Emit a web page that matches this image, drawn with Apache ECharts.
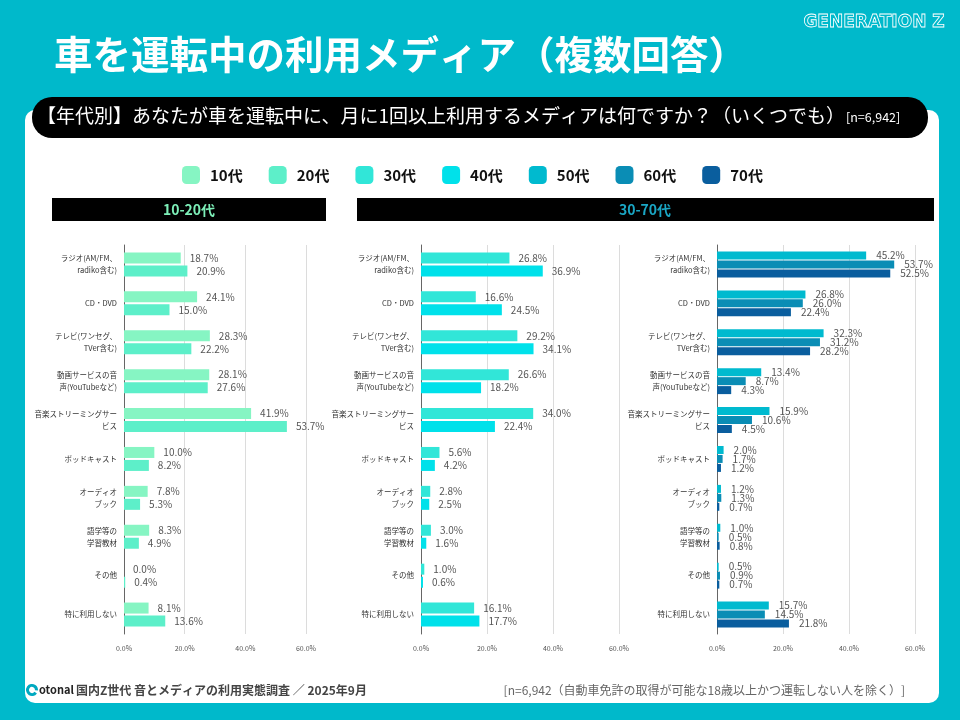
<!DOCTYPE html>
<html>
<head>
<meta charset="utf-8">
<script src="https://cdn.jsdelivr.net/npm/echarts@6/dist/echarts.min.js"></script>
<style>
html,body{margin:0;padding:0;background:#00B9CB;}
#c{width:960px;height:720px;}
</style>
</head>
<body>
<div id="c"></div>
<script>
var categories = ['ラジオ(AM/FM、\nradiko含む)', 'CD・DVD', 'テレビ(ワンセグ、\nTVer含む)', '動画サービスの音\n声(YouTubeなど)', '音楽ストリーミングサー\nビス', 'ポッドキャスト', 'オーディオ\nブック', '語学等の\n学習教材', 'その他', '特に利用しない'];
var ageGroups = ['10代', '20代', '30代', '40代', '50代', '60代', '70代'];
var v10 = [18.7, 24.1, 28.3, 28.1, 41.9, 10.0, 7.8, 8.3, 0.0, 8.1];
var v20 = [20.9, 15.0, 22.2, 27.6, 53.7, 8.2, 5.3, 4.9, 0.4, 13.6];
var v30 = [26.8, 16.6, 29.2, 26.6, 34.0, 5.6, 2.8, 3.0, 1.0, 16.1];
var v40 = [36.9, 24.5, 34.1, 18.2, 22.4, 4.2, 2.5, 1.6, 0.6, 17.7];
var v50 = [45.2, 26.8, 32.3, 13.4, 15.9, 2.0, 1.2, 1.0, 0.5, 15.7];
var v60 = [53.7, 26.0, 31.2, 8.7, 10.6, 1.7, 1.3, 0.5, 0.9, 14.5];
var v70 = [52.5, 22.4, 28.2, 4.3, 4.5, 1.2, 0.7, 0.8, 0.7, 21.8];
var xTicks = [0, 20, 40, 60];

var colors = ['#86F5C3', '#5DEFC9', '#31E6D8', '#00E1EA', '#00BACF', '#0A8DB5', '#0A5E9E'];
var FONT = '"Noto Sans CJK JP", "Noto Sans", sans-serif';

var chart = echarts.init(document.getElementById('c'));

var grids = [
  {left: 124, width: 182, top: 245, height: 389},
  {left: 421, width: 198, top: 245, height: 389},
  {left: 717, width: 198, top: 245, height: 389}
];
var xAxes = grids.map(function (g, i) {
  return {
    type: 'value', gridIndex: i, min: xTicks[0], max: xTicks[xTicks.length - 1], interval: 20,
    axisLine: {show: false}, axisTick: {show: false},
    axisLabel: {fontSize: 7, color: '#555', margin: 11, fontFamily: FONT,
      formatter: function (v) { return v.toFixed(1) + '%'; }},
    splitLine: {show: true, lineStyle: {color: '#dcdcdc', width: 1}}
  };
});
var yAxes = grids.map(function (g, i) {
  return {
    type: 'category', gridIndex: i, data: categories, inverse: true,
    axisLine: {show: true, lineStyle: {color: '#666', width: 1}},
    axisTick: {show: false},
    axisLabel: {fontSize: 7.5, color: '#333', margin: 7, lineHeight: 12, align: 'right', fontFamily: FONT}
  };
});

function mk(name, data, idx, gi, bw, gap, dist) {
  return {
    name: name, type: 'bar', xAxisIndex: gi, yAxisIndex: gi, data: data,
    barWidth: bw, barGap: gap,
    itemStyle: {color: colors[idx]},
    label: {show: true, position: 'right', distance: dist, fontSize: 10, color: '#555', fontFamily: FONT,
      formatter: function (p) { return p.value.toFixed(1) + '%'; }},
    z: 3
  };
}

var series = [
  mk(ageGroups[0], v10, 0, 0, 11, '18%', 9),
  mk(ageGroups[1], v20, 1, 0, 11, '18%', 9),
  mk(ageGroups[2], v30, 2, 1, 11, '18%', 9),
  mk(ageGroups[3], v40, 3, 1, 11, '18%', 9),
  mk(ageGroups[4], v50, 4, 2, 8, '12%', 10),
  mk(ageGroups[5], v60, 5, 2, 8, '12%', 10),
  mk(ageGroups[6], v70, 6, 2, 8, '12%', 10)
];

var option = {
  backgroundColor: '#00B9CB',
  animation: false,
  textStyle: {fontFamily: FONT},
  legend: {
    data: ageGroups, left: 177, top: 161, itemWidth: 18, itemHeight: 18, itemGap: 26,
    icon: 'roundRect',
    textStyle: {fontSize: 15, fontWeight: 'bold', color: '#111', fontFamily: FONT, padding: [0, 0, 0, 5]}
  },
  grid: grids,
  xAxis: xAxes,
  yAxis: yAxes,
  series: series,
  graphic: [
    {type: 'rect', z: -10, silent: true, shape: {x: 25, y: 110, width: 914, height: 593, r: 10}, style: {fill: '#fff'}},
    {type: 'rect', z: -5, silent: true, shape: {x: 32, y: 97, width: 896, height: 41, r: 20}, style: {fill: '#000'}},
    {type: 'text', z: 10, left: 54, top: 35, style: {text: '車を運転中の利用メディア（複数回答）', fill: '#fff', font: 'bold 38.5px ' + FONT}},
    {type: 'text', z: 10, left: 37, top: 106, style: {text: '【年代別】あなたが車を運転中に、月に1回以上利用するメディアは何ですか？（いくつでも）', fill: '#fff', font: '19px ' + FONT}},
    {type: 'text', z: 10, left: 846, top: 111, style: {text: '[n=6,942]', fill: '#fff', font: '12.5px ' + FONT}},
    {type: 'text', z: 10, right: 15, top: 14, style: {text: 'GENERATION Z', fill: 'rgba(0,0,0,0)', stroke: '#fff', lineWidth: 0.8, font: 'bold 17px "DejaVu Sans", sans-serif'}},
    {type: 'rect', z: -5, silent: true, shape: {x: 52, y: 198, width: 274, height: 23}, style: {fill: '#000'}},
    {type: 'rect', z: -5, silent: true, shape: {x: 357, y: 198, width: 577, height: 23}, style: {fill: '#000'}},
    {type: 'text', z: 10, x: 189, y: 209.5, style: {text: '10-20代', fill: '#7DEFB8', font: 'bold 14px ' + FONT, textAlign: 'center', textVerticalAlign: 'middle'}},
    {type: 'text', z: 10, x: 645, y: 209.5, style: {text: '30-70代', fill: '#1AA6C4', font: 'bold 14px ' + FONT, textAlign: 'center', textVerticalAlign: 'middle'}},
    {type: 'arc', z: 10, shape: {cx: 32, cy: 690, r: 4.5, startAngle: 0.6, endAngle: Math.PI * 2 + 0.1}, style: {stroke: '#00A9C0', lineWidth: 3, fill: null}},
    {type: 'text', z: 10, x: 39, y: 690, style: {text: 'otonal', fill: '#222', font: 'bold 11px ' + FONT, textVerticalAlign: 'middle'}},
    {type: 'text', z: 10, x: 76, y: 690, style: {text: '国内Z世代 音とメディアの利用実態調査 ／ 2025年9月', fill: '#444', font: 'bold 12px ' + FONT, textVerticalAlign: 'middle'}},
    {type: 'text', z: 10, x: 905, y: 690, style: {text: '[n=6,942（自動車免許の取得が可能な18歳以上かつ運転しない人を除く）]', fill: '#666', font: '12px ' + FONT, textAlign: 'right', textVerticalAlign: 'middle'}}
  ]
};
chart.setOption(option);
</script>
</body>
</html>
